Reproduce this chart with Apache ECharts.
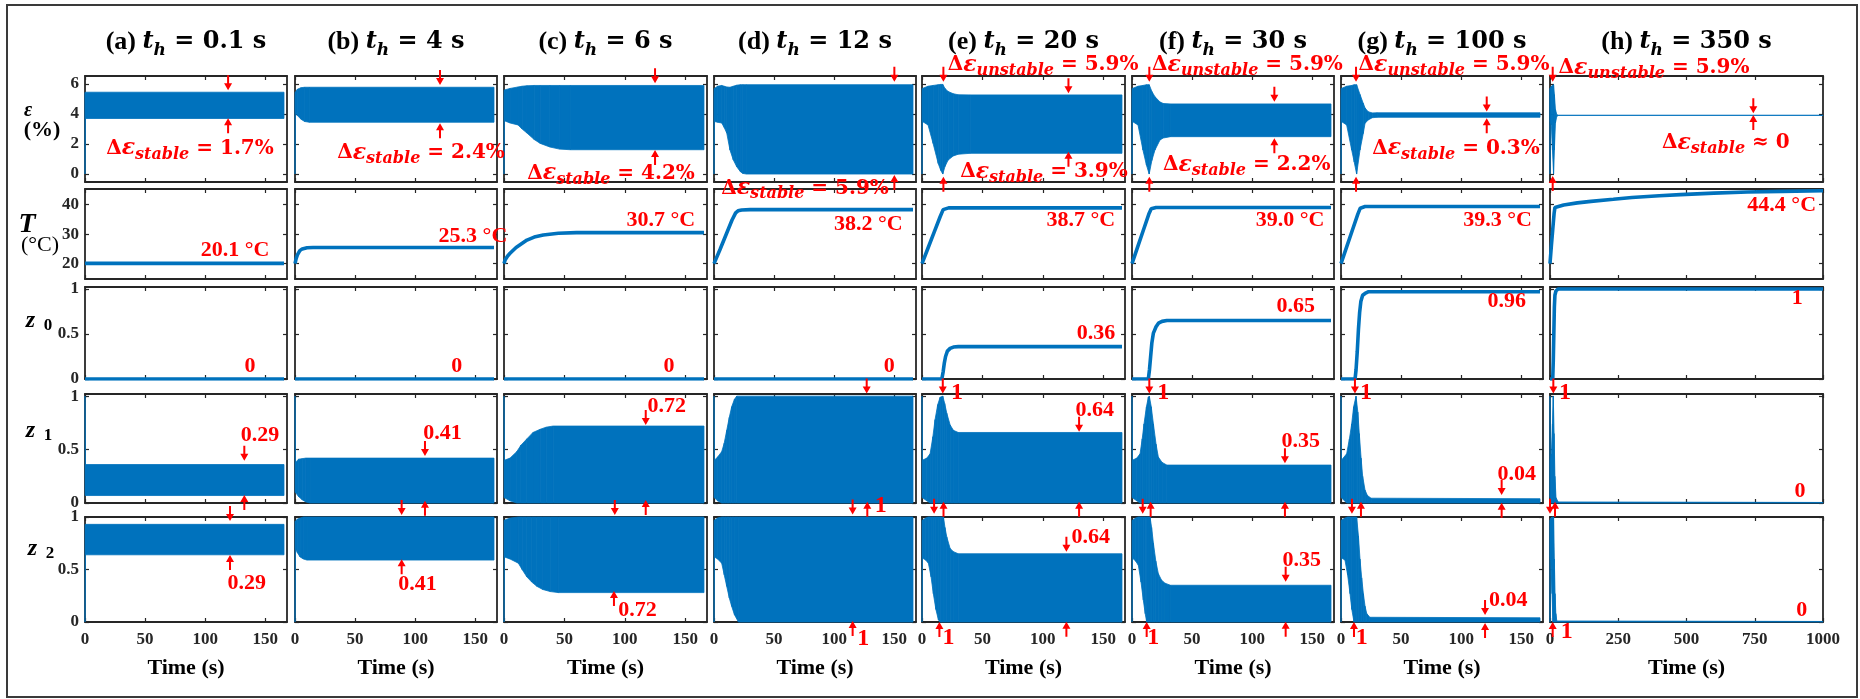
<!DOCTYPE html>
<html><head><meta charset="utf-8">
<script src="https://cdn.jsdelivr.net/npm/echarts@6/dist/echarts.min.js"></script>
<style>html,body{margin:0;padding:0;background:#fff}#c{width:1860px;height:699px}</style>
</head><body><div id="c"></div>
<script>
// ---------------- DATA ----------------
const colLetters = ['a','b','c','d','e','f','g','h'];
const holdTimes = ['0.1','4','6','12','20','30','100','350'];
const xTicksShort = [0,50,100,150];
const xTicksLong = [0,250,500,750,1000];
const epsTicks = [0,2,4,6];
const tempTicks = [20,30,40];
const zTicks = [0,0.5,1];

// strain envelope: [t, lower, upper] (%)
const epsA = [[0,0,5.4],[0.3,3.7,5.45],[165.5,3.7,5.45]];
const epsB = [[0,0,5.0],[0.3,4.1,5.45],[2,3.9,5.65],[5,3.65,5.75],[8,3.5,5.78],[12,3.45,5.78],[165.5,3.45,5.78]];
const epsC = [[0,0,5.0],[0.3,3.55,5.6],[5,3.4,5.7],[11.6,3.27,5.8],[15,3.0,5.85],[19,2.73,5.88],[25,2.3,5.9],[30,2.04,5.9],[38,1.8,5.9],[46,1.66,5.9],[55,1.62,5.9],[165.5,1.62,5.9]];
const epsD = [[0,0,5.0],[0.3,3.5,5.7],[3,3.45,5.85],[6.4,3.4,5.9],[8.5,3.1,5.85],[10.6,2.73,5.8],[13.3,1.6,5.78],[16,0.95,5.85],[18.9,0.49,5.92],[22,0.15,5.95],[24,0.04,5.95],[27,0,5.95],[165.5,0,5.95]];
const epsE = [[0,0,5.0],[0.3,3.5,5.7],[5,3.27,5.85],[9.2,2.04,5.9],[13.4,0.71,5.95],[15.5,0.25,5.97],[17.2,0,5.97],[19,0.5,5.7],[21.6,0.93,5.5],[25.8,1.2,5.35],[30,1.32,5.28],[40,1.38,5.27],[165.5,1.38,5.27]];
const epsF = [[0,0,5.0],[0.3,3.5,5.7],[5,3.27,5.85],[9.1,1.6,5.9],[12,0.6,5.95],[14.3,0,5.95],[16.5,0.9,5.5],[19.1,1.6,5.15],[23.3,2.27,4.8],[26,2.4,4.7],[32,2.49,4.67],[165.5,2.49,4.67]];
const epsG = [[0,0,5.0],[0.3,3.5,5.7],[4.7,3.27,5.85],[8.9,1.6,5.9],[11,0.8,5.95],[13,0,5.95],[15.8,1.6,5.3],[18.5,2.7,4.71],[20,3.38,4.4],[22.6,3.6,4.15],[26,3.75,4.07],[30,3.78,4.08],[165.5,3.78,4.08]];
const epsH = [[0,0,5.0],[0.5,3.5,5.7],[5,3.27,5.85],[9,1.6,5.9],[13,0,5.95],[16,1.6,5.3],[20,3.4,4.3],[25,3.85,3.95],[30,3.9,3.92],[1000,3.9,3.92]];

// temperature: [t, T] (°C)
const tempA = [[0,20.1],[165.5,20.1]];
const tempB = [[0,20],[1,21.8],[2,23],[4,24.4],[6,25],[10,25.4],[15,25.5],[165.5,25.5]];
const tempC = [[0,20],[1,21.3],[3,22.6],[5,23.5],[10,25.5],[19,28],[25,29],[32.5,29.7],[45,30.3],[60,30.5],[165.5,30.5]];
const tempD = [[0,20],[5,24.8],[10,29.8],[15,34.8],[18,37.2],[20,37.9],[23,38.2],[30,38.3],[165.5,38.3]];
const tempE = [[0,20],[5,25.3],[10,30.6],[15,35.9],[17.5,38.3],[19,38.7],[22,38.9],[165.5,38.9]];
const tempF = [[0,20],[5,26],[10,32],[14,36.8],[16,38.6],[17.5,38.95],[20,39.05],[165.5,39.05]];
const tempG = [[0,20],[5,26],[10,32],[14,36.8],[16,38.8],[17.5,39.2],[20,39.35],[165.5,39.35]];
const tempH = [[0,20],[5,26],[10,31.5],[15,37],[18,39],[25,39.4],[50,39.9],[100,40.6],[150,41.1],[232,41.8],[300,42.4],[400,43],[478,43.4],[600,43.9],[723,44.3],[850,44.5],[1000,44.7]];

// z0: [t, z0]
const z0A = [[0,0],[165.5,0]];
const z0B = [[0,0],[165.5,0]];
const z0C = [[0,0],[165.5,0]];
const z0D = [[0,0],[165.5,0]];
const z0E = [[0,0],[16.4,0],[17.5,0.08],[18.5,0.18],[19.5,0.25],[21,0.31],[23.3,0.34],[26,0.355],[30,0.36],[165.5,0.36]];
const z0F = [[0,0],[13.6,0],[14.5,0.1],[15.5,0.25],[16.5,0.4],[17.8,0.51],[20,0.58],[22,0.62],[25,0.64],[29,0.65],[165.5,0.65]];
const z0G = [[0,0],[11.7,0],[12.5,0.1],[13.5,0.3],[14.5,0.55],[15.5,0.74],[16.5,0.86],[18,0.93],[20,0.95],[23,0.97],[165.5,0.97]];
const z0H = [[0,0],[10,0],[12,0.2],[14,0.5],[16,0.8],[18,0.93],[22,0.98],[30,1],[1000,1]];

// z1 envelope: [t, lower, upper]
const z1A = [[0,0.95,1],[0.3,0.07,0.36],[165.5,0.07,0.36]];
const z1B = [[0,0.95,1],[0.3,0.1,0.38],[3,0.06,0.41],[6,0.03,0.415],[9,0.01,0.42],[12.5,0,0.42],[165.5,0,0.42]];
const z1C = [[0,0.95,1],[0.3,0.05,0.4],[5,0.02,0.42],[10.5,0,0.48],[14,0,0.54],[18.9,0,0.6],[24,0,0.66],[30,0,0.69],[35,0,0.71],[40.7,0,0.72],[165.5,0,0.72]];
const z1D = [[0,0.95,1],[0.3,0.05,0.4],[3,0.02,0.43],[6.4,0,0.48],[8.5,0,0.56],[10.6,0,0.68],[12.7,0,0.8],[14.7,0,0.9],[17,0,0.97],[18.9,0,1],[165.5,0,1]];
const z1E = [[0,0.95,1],[0.3,0.05,0.4],[4,0.02,0.42],[6.7,0,0.46],[9,0,0.62],[10.8,0,0.78],[13,0,0.92],[15,0,0.99],[17.2,0,1],[18.8,0,0.93],[20.5,0,0.84],[23.3,0,0.73],[26,0,0.68],[30,0,0.66],[165.5,0,0.66]];
const z1F = [[0,0.95,1],[0.3,0.05,0.4],[4,0.02,0.42],[6.7,0,0.46],[8.5,0,0.6],[10,0,0.74],[12,0,0.9],[13.6,0,0.99],[14.4,0,1],[16,0,0.9],[17.8,0,0.74],[20,0,0.55],[21.9,0,0.43],[25,0,0.38],[29,0,0.355],[165.5,0,0.355]];
const z1G = [[0,0.95,1],[0.3,0.05,0.4],[4.7,0,0.46],[7,0,0.6],[8.9,0,0.74],[10.5,0,0.9],[12.5,0,1],[14,0,0.85],[15.2,0,0.65],[16.7,0,0.42],[18,0,0.25],[20,0,0.12],[22,0,0.07],[25,0,0.045],[165.5,0,0.04]];
const z1H = [[0,0.95,1],[0.5,0.05,0.4],[5,0,0.46],[9,0,0.74],[12,0,1],[15,0,0.65],[18,0,0.25],[22,0,0.05],[30,0,0.01],[1000,0,0.005]];

// z2 envelope: [t, lower, upper]
const z2A = [[0,0,0.05],[0.3,0.64,0.93],[165.5,0.64,0.93]];
const z2B = [[0,0,0.05],[0.3,0.7,0.96],[2,0.66,0.98],[4.2,0.62,0.99],[7,0.6,1],[10,0.59,1],[165.5,0.59,1]];
const z2C = [[0,0,0.05],[0.3,0.62,0.97],[5,0.6,0.99],[11.9,0.56,1],[15,0.5,1],[18.9,0.43,1],[23,0.38,1],[27.2,0.34,1],[32,0.31,1],[38.3,0.29,1],[45,0.28,1],[165.5,0.28,1]];
const z2D = [[0,0,0.05],[0.3,0.62,0.97],[3,0.6,0.99],[6.4,0.56,1],[8.5,0.45,1],[10.6,0.34,1],[12.7,0.23,1],[14.7,0.15,1],[17,0.07,1],[20.3,0,1],[165.5,0,1]];
const z2E = [[0,0,0.05],[0.3,0.61,0.97],[3,0.59,0.99],[5.3,0.56,1],[7.5,0.43,1],[9.4,0.27,1],[11.5,0.12,1],[13.6,0.02,1],[15,0,1],[17.8,0,1],[19,0,0.9],[20.5,0,0.81],[23.3,0,0.7],[26,0,0.67],[30,0,0.65],[165.5,0,0.65]];
const z2F = [[0,0,0.05],[0.3,0.61,0.97],[3,0.58,0.99],[5.3,0.54,1],[7.5,0.38,1],[9.4,0.21,1],[11,0.08,1],[12.2,0,1],[15,0,1],[16.3,0,0.9],[17.8,0,0.75],[19.8,0,0.58],[21.9,0,0.46],[24.5,0,0.4],[27.4,0,0.37],[32,0,0.35],[165.5,0,0.35]];
const z2G = [[0,0,0.05],[0.3,0.61,0.97],[3.3,0.59,0.99],[5.5,0.45,1],[7.5,0.27,1],[9,0.12,1],[10.8,0,1],[13,0,1],[14.5,0,0.82],[15.8,0,0.6],[17.2,0,0.42],[18.6,0,0.27],[20,0,0.15],[21.4,0,0.08],[24,0,0.045],[165.5,0,0.04]];
const z2H = [[0,0,0.05],[0.5,0.61,0.97],[3,0.59,0.99],[7.5,0.27,1],[10.8,0,1],[13,0,1],[15.8,0,0.6],[18.6,0,0.27],[21.4,0,0.08],[25,0,0.01],[1000,0,0.005]];

// annotations: [kind, t, value, text...]  (dn/up arrows point at (t,value))
const annEpsA = [['dn',119,5.58],['up',119,3.71],['de',87.3,1.71,'stable','= 1.7%']];
const annEpsB = [['dn',120.6,5.93],['up',120.6,3.38],['de',104.8,1.4,'stable','= 2.4%']];
const annEpsC = [['dn',125,6.05],['up',125,1.6],['de',88.6,0.04,'stable','= 4.2%']];
const annEpsD = [['dn',150,6.15],['up',150,-0.07],['de',75.7,-0.95,'stable','= 5.9%']];
const annEpsE = [['de',100.2,7.27,'unstable','= 5.9%'],['dn',17.7,6.15],['up',17.7,-0.18],['dn',121.2,5.38],['up',121.2,1.49],['de',100.9,0.15,'stable','= 3.9%']];
const annEpsF = [['de',96,7.27,'unstable','= 5.9%'],['dn',14.4,6.15],['up',14.4,-0.18],['dn',118.4,4.82],['up',118.4,2.38],['de',95.4,0.6,'stable','= 2.2%']];
const annEpsG = [['de',94,7.27,'unstable','= 5.9%'],['dn',12.5,6.15],['up',12.5,-0.18],['dn',121.2,4.16],['up',121.2,3.71],['de',95.6,1.71,'stable','= 0.3%']];
const annEpsH = [['de',381,7.05,'unstable','= 5.9%'],['dn',9.9,6.15],['up',9.9,-0.13],['dn',744.7,4.05],['up',744.7,3.93],['de',644,2.05,'stable','≈ 0']];

const annTempA = [['nm',124.8,24.4,'20.1 °C']];
const annTempB = [['nm',148,29.4,'25.3 °C']];
const annTempC = [['nm',129.7,34.8,'30.7 °C']];
const annTempD = [['nm',128.3,33.5,'38.2 °C']];
const annTempE = [['nm',131.4,34.8,'38.7 °C']];
const annTempF = [['nm',131.4,34.8,'39.0 °C']];
const annTempG = [['nm',130.2,34.8,'39.3 °C']];
const annTempH = [['nm',848.7,39.9,'44.4 °C']];

const annZ0A = [['nm',137.2,0.137,'0']];
const annZ0B = [['nm',134.5,0.137,'0']];
const annZ0C = [['nm',136.6,0.137,'0']];
const annZ0D = [['nm',145.8,0.137,'0']];
const annZ0E = [['nm',143.9,0.508,'0.36']];
const annZ0F = [['nm',136.2,0.803,'0.65']];
const annZ0G = [['nm',137.8,0.859,'0.96']];
const annZ0H = [['nm',906,0.897,'1']];

const annZ1A = [['dn',132.5,0.395],['up',132.5,0.075],['nm',145.5,0.636,'0.29']];
const annZ1B = [['dn',108.1,0.439],['up',108.1,0.02],['nm',122.7,0.651,'0.41']];
const annZ1C = [['dn',117.3,0.729],['up',117.3,0.028],['nm',134.6,0.907,'0.72']];
const annZ1D = [['dn',127,1.025],['up',127.5,0.012],['one',138.6,-0.03,'1']];
const annZ1E = [['dn',17.2,1.025],['one',28.9,1.035,'1'],['dn',130,0.666],['up',130,0.012],['nm',143,0.869,'0.64'],['up',17.8,0.012]];
const annZ1F = [['dn',14.4,1.025],['one',26.0,1.035,'1'],['dn',127.2,0.371],['up',127.2,0.012],['nm',140.4,0.573,'0.35'],['up',15.5,0.012]];
const annZ1G = [['dn',11.6,1.025],['one',20.8,1.035,'1'],['dn',133.6,0.075],['up',133.6,0.003],['nm',146.1,0.271,'0.04'],['up',16.6,0.012]];
const annZ1H = [['dn',12.2,1.025],['one',55,1.035,'1'],['nm',915.8,0.106,'0'],['up',18.3,0.012]];

const annZ2A = [['dn',120.6,0.962],['up',120.6,0.638],['nm',134.5,0.369,'0.29']];
const annZ2B = [['dn',88.7,1.02],['up',88.7,0.597],['nm',101.9,0.362,'0.41']];
const annZ2C = [['dn',91.7,1.02],['up',91,0.295],['nm',110.4,0.108,'0.72']];
const annZ2D = [['dn',115.3,1.025],['up',115.3,0.01],['one',124.2,-0.162,'1']];
const annZ2E = [['dn',10,1.03],['dn',119.5,0.67],['up',119.5,0.003],['nm',139.7,0.807,'0.64'],['up',14.4,0],['one',21.9,-0.155,'1']];
const annZ2F = [['dn',8.9,1.03],['dn',127.8,0.384],['up',127.8,0.003],['nm',141.1,0.59,'0.35'],['up',12.2,0],['one',17.7,-0.155,'1']];
const annZ2G = [['dn',9.1,1.03],['dn',119.8,0.067],['up',119.8,-0.01],['nm',139.1,0.21,'0.04'],['up',10.8,0],['one',17.2,-0.155,'1']];
const annZ2H = [['dn',0,1.03],['up',9.9,0],['one',61,-0.092,'1'],['nm',922,0.108,'0']];

const panelRows = [
  [epsA,epsB,epsC,epsD,epsE,epsF,epsG,epsH],
  [tempA,tempB,tempC,tempD,tempE,tempF,tempG,tempH],
  [z0A,z0B,z0C,z0D,z0E,z0F,z0G,z0H],
  [z1A,z1B,z1C,z1D,z1E,z1F,z1G,z1H],
  [z2A,z2B,z2C,z2D,z2E,z2F,z2G,z2H]
];
const annRows = [
  [annEpsA,annEpsB,annEpsC,annEpsD,annEpsE,annEpsF,annEpsG,annEpsH],
  [annTempA,annTempB,annTempC,annTempD,annTempE,annTempF,annTempG,annTempH],
  [annZ0A,annZ0B,annZ0C,annZ0D,annZ0E,annZ0F,annZ0G,annZ0H],
  [annZ1A,annZ1B,annZ1C,annZ1D,annZ1E,annZ1F,annZ1G,annZ1H],
  [annZ2A,annZ2B,annZ2C,annZ2D,annZ2E,annZ2F,annZ2G,annZ2H]
];
const rowTicks = [epsTicks, tempTicks, zTicks, zTicks, zTicks];

// ---------------- LAYOUT / STYLE ----------------
const colL = [85,295,504,714,922,1132,1341,1550];
const colR = [287,497,707,916,1125,1334,1543,1823];
const rowT = [76,189,287,394,517];
const rowB = [182,279,379,503,622];
const yMin = [-0.53,14.8,0,0,0];
const yMax = [6.53,45.3,1.022,1.02,1.0];
const bandRow = [true,false,false,true,true];
const BLUE = '#0072BD', RED = '#FF0000', AX = '#262626';
const SERIF = "'Liberation Serif','Times New Roman',serif";
const MATH = "'DejaVu Serif',serif";

function renderBand(params, api) {
  const i = params.dataIndexInside, n = params.dataInsideLength;
  if (i >= n - 1) return null;
  const a0 = api.coord([api.value(0, i), api.value(2, i)]);
  const a1 = api.coord([api.value(0, i + 1), api.value(2, i + 1)]);
  const b1 = api.coord([api.value(0, i + 1), api.value(1, i + 1)]);
  const b0 = api.coord([api.value(0, i), api.value(1, i)]);
  return {type:'polygon', shape:{points:[a0,a1,b1,b0]}, style:{fill:BLUE, stroke:BLUE, lineWidth:0.8}};
}
function arrow(p, dir) {
  const x = p[0], y = p[1], L = 15, H = 7, W = 4, w = 1;
  return {type:'polygon', shape:{points:[[x-w,y-dir*L],[x+w,y-dir*L],[x+w,y-dir*H],[x+W,y-dir*H],[x,y],[x-W,y-dir*H],[x-w,y-dir*H]]}, style:{fill:RED}};
}
function deltaRich() {
  return {
    d:{fontFamily:MATH,fontSize:20,fontWeight:'bold',fill:RED,lineHeight:28},
    e:{fontFamily:MATH,fontSize:22,fontWeight:'bold',fontStyle:'italic',fill:RED,lineHeight:28},
    s:{fontFamily:MATH,fontSize:16,fontWeight:'bold',fontStyle:'italic',fill:RED,lineHeight:14,verticalAlign:'bottom'},
    n:{fontFamily:MATH,fontSize:20,fontWeight:'bold',fill:RED,lineHeight:28}
  };
}
function makeAnn(list) {
  return function (params, api) {
    const a = list[params.dataIndex];
    const p = api.coord([a[1], a[2]]);
    if (a[0] === 'dn') return arrow(p, 1);
    if (a[0] === 'up') return arrow(p, -1);
    if (a[0] === 'de') {
      return {type:'text', x:p[0], y:p[1], style:{text:'{d|Δ}{e|ε}{s|' + a[3] + '}{n| ' + a[4] + '}', rich:deltaRich(), align:'center', verticalAlign:'middle', fill:RED}};
    }
    const fs = a[0] === 'one' ? 24 : 22;
    return {type:'text', x:p[0], y:p[1], style:{text:a[3], fontFamily:SERIF, fontSize:fs, fontWeight:'bold', fill:RED, align:'center', verticalAlign:'middle'}};
  };
}

const grids = [], xAxes = [], yAxes = [], series = [];
for (let r = 0; r < 5; r++) {
  for (let c = 0; c < 8; c++) {
    const gi = r * 8 + c;
    grids.push({left:colL[c], top:rowT[r], width:colR[c]-colL[c], height:rowB[r]-rowT[r], containLabel:false, outerBoundsMode:'none'});
    const xt = c === 7 ? xTicksLong : xTicksShort;
    const xmax = c === 7 ? 1000 : 168;
    const lineS = {onZero:false, lineStyle:{color:AX, width:1.8}};
    const tickS = (vals) => ({inside:true, length:4, customValues:vals, lineStyle:{color:AX, width:1.2}});
    xAxes.push({gridIndex:gi, type:'value', position:'bottom', min:0, max:xmax, axisLine:lineS, axisTick:tickS(xt),
      axisLabel:{show:r===4, customValues:xt, formatter:(v) => String(v), margin:9, fontFamily:SERIF, fontWeight:'bold', fontSize:17, color:AX},
      splitLine:{show:false}, name:r===4?'Time (s)':'', nameLocation:'middle', nameGap:35,
      nameTextStyle:{fontFamily:SERIF, fontWeight:'bold', fontSize:22, color:'#000'}});
    xAxes.push({gridIndex:gi, type:'value', position:'top', min:0, max:xmax, axisLine:lineS, axisTick:tickS(xt),
      axisLabel:{show:false}, splitLine:{show:false}});
    const yt = rowTicks[r];
    yAxes.push({gridIndex:gi, type:'value', position:'left', min:yMin[r], max:yMax[r], axisLine:lineS, axisTick:tickS(yt),
      axisLabel:{show:c===0, customValues:yt, formatter:(v) => String(v), margin:6, fontFamily:SERIF, fontWeight:'bold', fontSize:17, color:AX},
      splitLine:{show:false}});
    yAxes.push({gridIndex:gi, type:'value', position:'right', min:yMin[r], max:yMax[r], axisLine:lineS, axisTick:tickS(yt),
      axisLabel:{show:false}, splitLine:{show:false}});
    const data = panelRows[r][c];
    if (bandRow[r]) {
      series.push({type:'custom', xAxisIndex:2*gi, yAxisIndex:2*gi, data:data, renderItem:renderBand, z:2, silent:true, clip:false});
    } else {
      series.push({type:'line', xAxisIndex:2*gi, yAxisIndex:2*gi, data:data, showSymbol:false, symbol:'none',
        lineStyle:{color:BLUE, width:3.6}, itemStyle:{color:BLUE}, z:2, silent:true});
    }
    const ann = annRows[r][c];
    series.push({type:'custom', xAxisIndex:2*gi, yAxisIndex:2*gi, data:ann.map(a => [a[1], a[2]]), renderItem:makeAnn(ann), z:10, silent:true, clip:false});
  }
}

const graphics = [
  {type:'rect', shape:{x:7, y:5, width:1850, height:692}, style:{fill:'none', stroke:'#3a3a3a', lineWidth:2}, silent:true, z:-10}
];
for (let c = 0; c < 8; c++) {
  graphics.push({type:'text', x:(colL[c]+colR[c])/2, y:42, style:{
    text:'{p|(' + colLetters[c] + ') }{t|t}{h|h}{m| = ' + holdTimes[c] + ' s}',
    rich:{
      p:{fontFamily:SERIF, fontSize:26, fontWeight:'bold', fill:'#000', lineHeight:34},
      t:{fontFamily:MATH, fontSize:24, fontWeight:'bold', fontStyle:'italic', fill:'#000', lineHeight:34},
      h:{fontFamily:MATH, fontSize:17, fontWeight:'bold', fontStyle:'italic', fill:'#000', lineHeight:18, verticalAlign:'bottom'},
      m:{fontFamily:MATH, fontSize:24, fontWeight:'bold', fill:'#000', lineHeight:34}
    }, align:'center', verticalAlign:'middle'}});
}
const lbl = (x, y, text, size, weight, style) => ({type:'text', x:x, y:y, style:{text:text, fontFamily:SERIF, fontSize:size, fontWeight:weight, fontStyle:style, fill:'#000', align:'center', verticalAlign:'middle'}});
graphics.push(lbl(28, 111, 'ε', 20, 'bold', 'italic'));
graphics.push(lbl(42, 130, '(%)', 22, 'bold', 'normal'));
graphics.push(lbl(27, 225, 'T', 28, 'bold', 'italic'));
graphics.push(lbl(40, 245, '(°C)', 22, 'normal', 'normal'));
const zl = (x, y, d) => ({type:'text', x:x, y:y, style:{text:'{z|z}{s|  ' + d + '}', rich:{
  z:{fontFamily:SERIF, fontSize:24, fontWeight:'bold', fontStyle:'italic', fill:'#000', lineHeight:26},
  s:{fontFamily:SERIF, fontSize:17, fontWeight:'bold', fill:'#000', lineHeight:20, verticalAlign:'bottom'}
}, align:'center', verticalAlign:'middle'}});
graphics.push(zl(39, 321, '0'));
graphics.push(zl(39, 431, '1'));
graphics.push(zl(41, 549, '2'));

const chart = echarts.init(document.getElementById('c'), null, {renderer:'canvas'});
chart.setOption({
  animation:false,
  backgroundColor:'#fff',
  grid:grids, xAxis:xAxes, yAxis:yAxes, series:series, graphic:graphics
});
</script></body></html>
